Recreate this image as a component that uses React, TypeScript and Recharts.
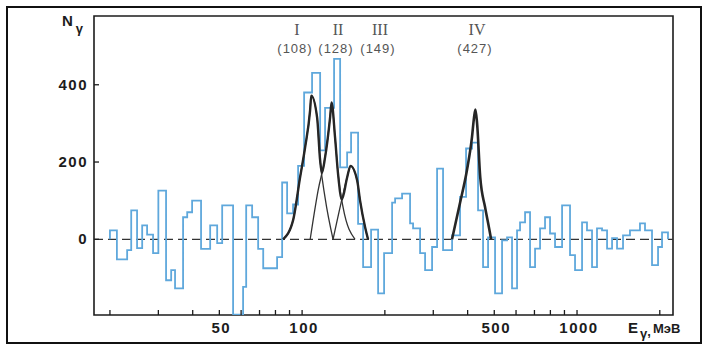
import React from 'react';
import { ComposedChart, Line, XAxis, YAxis, ReferenceLine, ReferenceArea } from 'recharts';

// histogram: left edge of each bin (MeV) and counts
const binEdges = [
  20.0, 21.2, 23.1, 23.9, 25.1, 26.2, 27.3, 28.7, 30.0, 32.0, 33.4, 34.5, 36.9, 38.2, 39.8,
  42.9, 46.3, 49.1, 51.2, 56.1, 61.0, 62.6, 65.8, 69.2, 72.2, 81.1, 84.6, 88.2, 92.7, 96.7,
  101.7, 108.7, 116.3, 121.2, 130.7, 137.5, 145.8, 150.7, 159.8, 166.7, 178.2, 189.0, 198.7,
  212.5, 217.9, 231.0, 247.0, 253.3, 268.6, 280.1, 297.0, 309.7, 325.6, 351.2, 375.4, 394.8,
  415.1, 436.5, 455.2, 474.7, 503.3, 533.7, 556.5, 580.2, 605.1, 620.4, 647.1, 674.7, 703.6,
  733.7, 764.9, 797.6, 831.8, 882.3, 943.0, 983.4, 1043, 1087, 1134, 1182, 1233, 1286, 1341,
  1398, 1470, 1558, 1694, 1767, 1874, 1971, 2038,
];
const binCounts = [
  23, -52, -28, 75, -23, 36, 12, -36, 126, -106, -80, -127, 57, 70, 100,
  -25, 36, -10, 88, -195, -123, 88, 57, -25, -75, -46, 147, 67, 90, 190,
  380, 431, 230, 340, 467, 186, 225, 276, 40, -72, 25, -140, -36,
  95, 106, 118, 41, 28, -36, -80, -20, 183, -28, 10, 110, 235,
  250, 75, -72, 5, -140, -3, 5, -127, 23, 44, 70, -72, -24,
  28, 57, 15, -20, 88, -41, -80, 44, 23, -72, 28, 23, -24, 3,
  -24, 10, 23, 41, 23, -67, -20, 18,
];
const histEnd = 2142;

// fitted peaks, points
const peak1E = [85.3, 92.7, 98.3, 102.5, 106.9, 108, 113.4, 116.3, 121.2, 129.6];
const peak1N = [0, 49, 160, 237, 333, 372, 315, 204, 108, 0];
const peak2E = [107, 114.3, 121.2, 126.4, 128, 131.8, 135.1, 140.9, 155.8];
const peak2N = [0, 126, 212, 315, 354, 263, 170, 83, 0];
const peak3E = [129.6, 139.8, 145.8, 150, 158.6, 162.5, 169.5, 173.7];
const peak3N = [0, 106, 160, 190, 152, 100, 31, 0];
const peak4E = [351, 375.6, 398, 415, 422, 427, 433, 444.6, 463, 479, 487];
const peak4N = [0, 95, 180, 265, 315, 336, 300, 160, 83, 28, 0];
const envE = [85.3, 92.7, 98.3, 102.5, 106.9, 108, 113.4, 116.3, 118, 121.2, 126.4, 128, 131.8, 135.1, 139.5, 145.8, 150, 158.6, 162.5, 169.5, 173.7];
const envN = [0, 49, 160, 237, 333, 372, 315, 204, 172, 212, 315, 354, 263, 170, 103, 160, 190, 152, 100, 31, 0];

const peakNames = ['I', 'II', 'III', 'IV'];
const peakEnergies = ['108', '128', '149', '427'];

const xTicks = [20, 30, 40, 50, 60, 70, 80, 90, 100, 200, 300, 400, 500, 600, 700, 800, 900, 1000, 2000];
const xLabels = [50, 100, 500, 1000];
const yTicks = [0, 200, 400];

const X_MIN = 17.5;
const X_MAX = 2234;
const Y_MIN = -196;
const Y_MAX = 578;

const histData = [
  { e: binEdges[0], n: 0 },
  ...binEdges.map((e, i) => ({ e, n: binCounts[i] })),
  { e: histEnd, n: 0 },
];
const toPts = (es: number[], ns: number[]) => es.map((e, i) => ({ e, n: ns[i] }));

const labelFont = '"Liberation Sans", Arial, sans-serif';
const ink = '#1c1c1c';

const XTick = ({ x, y, payload }: any) => (
  <g>
    <line x1={x} x2={x} y1={y} y2={y - 5} stroke={ink} strokeWidth={1.3} />
    {xLabels.includes(payload.value) && (
      <text x={x + 2} y={y + 18} textAnchor="middle" fontFamily={labelFont} fontWeight={700}
        fontSize={15} letterSpacing={1.5} fill={ink}>
        {payload.value}
      </text>
    )}
  </g>
);

const YTick = ({ x, y, payload }: any) => (
  <g>
    <line x1={x} x2={x + 5} y1={y} y2={y} stroke={ink} strokeWidth={1.3} />
    <text x={x - 6} y={y + 5} textAnchor="end" fontFamily={labelFont} fontWeight={700}
      fontSize={15} letterSpacing={1.5} fill={ink}>
      {payload.value}
    </text>
  </g>
);

const peakLabelX = [297, 338, 380, 477];

export default function App() {
  return (
    <div style={{ position: 'absolute', left: 0, top: 0, width: 705, height: 346, background: '#fff' }}>
      <ComposedChart width={705} height={346} margin={{ top: 16, right: 32, bottom: 1, left: 0 }}>
        <XAxis
          type="number"
          dataKey="e"
          scale="log"
          domain={[X_MIN, X_MAX]}
          allowDataOverflow
          ticks={xTicks}
          tick={<XTick />}
          tickSize={0}
          tickMargin={0}
          axisLine={false}
          tickLine={false}
          interval={0}
          height={30}
        />
        <YAxis
          type="number"
          dataKey="n"
          domain={[Y_MIN, Y_MAX]}
          allowDataOverflow
          ticks={yTicks}
          tick={<YTick />}
          tickSize={0}
          tickMargin={0}
          axisLine={false}
          tickLine={false}
          width={94}
        />
        <ReferenceLine y={0} stroke="#333" strokeWidth={1.2} strokeDasharray="9 5" />
        <Line data={histData} dataKey="n" type="stepAfter" stroke="#5fa8dc" strokeWidth={1.8}
          dot={false} isAnimationActive={false} />
        <Line data={toPts(peak1E, peak1N)} dataKey="n" type="monotone" stroke="#333" strokeWidth={1.3}
          dot={false} isAnimationActive={false} />
        <Line data={toPts(peak2E, peak2N)} dataKey="n" type="monotone" stroke="#333" strokeWidth={1.3}
          dot={false} isAnimationActive={false} />
        <Line data={toPts(peak3E, peak3N)} dataKey="n" type="monotone" stroke="#333" strokeWidth={1.3}
          dot={false} isAnimationActive={false} />
        <Line data={toPts(envE, envN)} dataKey="n" type="monotone" stroke="#262626" strokeWidth={2.4}
          dot={false} isAnimationActive={false} />
        <Line data={toPts(peak4E, peak4N)} dataKey="n" type="monotone" stroke="#262626" strokeWidth={2.6}
          dot={false} isAnimationActive={false} />
        <ReferenceArea x1={X_MIN} x2={X_MAX} y1={Y_MIN} y2={Y_MAX} fill="none" stroke={ink} strokeWidth={1.6} />
      </ComposedChart>
      <svg width={705} height={346} style={{ position: 'absolute', left: 0, top: 0, pointerEvents: 'none' }}>
        <rect x={7} y={7} width={694} height={336} fill="none" stroke="#111" strokeWidth={2} />
        <text x={62} y={26} fontFamily={labelFont} fontWeight={700} fontSize={15} fill={ink}>
          N<tspan dx={3} dy={7} fontSize={13}>γ</tspan>
        </text>
        <text x={628} y={333} fontFamily={labelFont} fontWeight={700} fontSize={15} fill={ink}>
          E<tspan dx={2} dy={5} fontSize={13}>γ</tspan>
          <tspan dy={-2} fontSize={13}>,</tspan>
          <tspan dx={2} dy={-3} fontSize={13}>МэВ</tspan>
        </text>
        {peakNames.map((name, i) => (
          <g key={name}>
            <text x={peakLabelX[i]} y={35} textAnchor="middle" fontFamily='"Liberation Serif", serif'
              fontSize={16} fill="#555">{name}</text>
            <text x={peakLabelX[i] - 2} y={53} textAnchor="middle" fontFamily={labelFont}
              fontSize={13} letterSpacing={1} fill="#555">({peakEnergies[i]})</text>
          </g>
        ))}
      </svg>
    </div>
  );
}
